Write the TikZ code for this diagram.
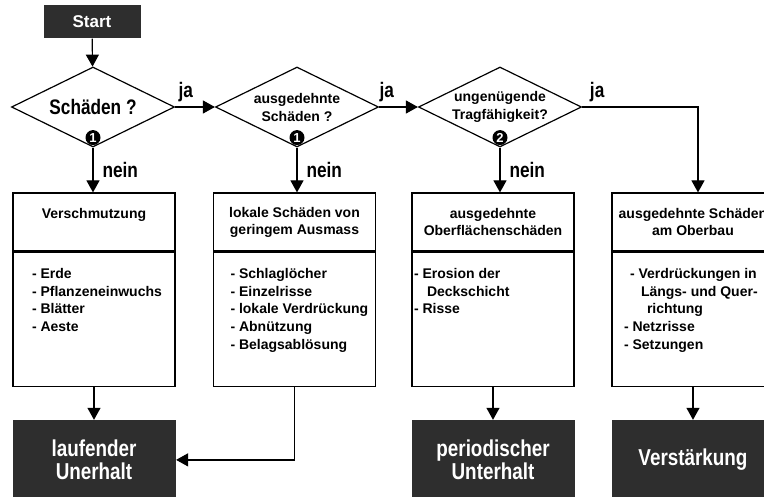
\documentclass[tikz,border=0pt]{standalone}
\usepackage{fontspec}
\setmainfont{Liberation Sans}
\newfontfamily\condfont[FakeStretch=0.82]{Liberation Sans}
\usetikzlibrary{arrows.meta}
\usetikzlibrary{positioning}
\usetikzlibrary{shapes.geometric}
\tikzset{
  flow/.style={-{Triangle[width=13pt,length=12pt]}},
  dark/.style={fill=black!82, text=white, minimum width=163pt, minimum height=79pt,
    align=center, font=\condfont\bfseries\fontsize{23}{23}\selectfont},
  decision/.style={draw, diamond, aspect=2, inner sep=0pt, minimum width=163pt,
    minimum height=80pt, align=center},
  headbox/.style={draw, minimum width=162pt, minimum height=58pt, align=center,
    font=\bfseries\fontsize{14}{17}\selectfont},
  itembox/.style={draw, minimum width=162pt, minimum height=134pt},
  itemtext/.style={anchor=north west, inner sep=0pt, align=left,
    font=\bfseries\fontsize{14}{17.8}\selectfont},
  badge/.style={circle, fill=black, text=white, inner sep=0pt, minimum size=15pt,
    font=\bfseries\fontsize{13}{13}\selectfont},
  answer/.style={inner sep=0pt, font=\condfont\bfseries\fontsize{21}{21}\selectfont},
}
\begin{document}
\begin{tikzpicture}[x=1pt, y=1pt, line width=1.2pt]
  \useasboundingbox (0,0) rectangle (764,-497);
  \clip (0,0) rectangle (764,-497);

  \node[dark, minimum width=97pt, minimum height=33pt,
    font=\bfseries\fontsize{17}{17}\selectfont] (start) at (92,-21.5) {Start};

  \node[decision, font=\condfont\bfseries\fontsize{21}{21}\selectfont] (d1) at (93,-107) {Schäden ?};
  \node[decision, font=\bfseries\fontsize{14}{18}\selectfont] (d2) at (297,-107) {ausgedehnte\\Schäden ?};
  \node[decision, font=\bfseries\fontsize{14}{17.5}\selectfont] (d3) at (500,-107) {ungenügende\\Tragfähigkeit?};
  \node[badge] (n1) at ([yshift=10pt]d1.south) {1};
  \node[badge] (n2) at ([yshift=10pt]d2.south) {1};
  \node[badge] (n3) at ([yshift=10pt]d3.south) {2};
  \coordinate (j4) at (698,-107);

  \node[headbox, text depth=18pt] (h1) at (94,-222) {Verschmutzung};
  \node[headbox] (h2) at (294.5,-222) {lokale Schäden von\\geringem Ausmass};
  \node[headbox] (h3) at (493,-222) {ausgedehnte\\Oberflächenschäden};
  \node[headbox] (h4) at (693,-222) {ausgedehnte Schäden\\am Oberbau};

  \node[itembox, below=0pt of h1] (l1) {};
  \node[itembox, below=0pt of h2] (l2) {};
  \node[itembox, below=0pt of h3] (l3) {};
  \node[itembox, below=0pt of h4] (l4) {};

  \node[itemtext] (i1) at ([xshift=19pt,yshift=-16pt]l1.north west)
    {- Erde\\- Pflanzeneinwuchs\\- Blätter\\- Aeste};
  \node[itemtext] (i2) at ([xshift=17pt,yshift=-16pt]l2.north west)
    {- Schlaglöcher\\- Einzelrisse\\- lokale Verdrückung\\- Abnützung\\- Belagsablösung};
  \node[itemtext] (i3) at ([xshift=2pt,yshift=-16pt]l3.north west)
    {- Erosion der\\\hspace{13pt}Deckschicht\\- Risse};
  \node[itemtext] (i4) at ([xshift=12pt,yshift=-16pt]l4.north west)
    {\hspace{6pt}- Verdrückungen in\\\hspace{17pt}Längs- und Quer-\\\hspace{23pt}richtung\\- Netzrisse\\- Setzungen};

  \node[dark, below=33pt of l1] (r1) {laufender\\Unerhalt};
  \node[dark, below=33pt of l3] (r3) {periodischer\\Unterhalt};
  \node[dark, below=33pt of l4] (r4) {Verstärkung};

  \draw[flow] (start) -- (d1);
  \draw[flow] (d1) -- node[answer, pos=0.27, above=5pt] {ja} (d2);
  \draw[flow] (d2) -- node[answer, pos=0.2, above=5pt] {ja} (d3);
  \draw[flow] (d3) -- node[answer, pos=0.13, above=5pt] {ja} (j4) -- (j4 |- h4.north);
  \draw[flow] (d1.south) -- node[answer, right=9pt] {nein} (d1.south |- h1.north);
  \draw[flow] (d2.south) -- node[answer, right=9pt] {nein} (d2.south |- h2.north);
  \draw[flow] (d3.south) -- node[answer, right=9pt] {nein} (d3.south |- h3.north);
  \draw[flow] (l1.south) -- (l1.south |- r1.north);
  \draw[flow] (l2.south) |- (r1.east);
  \draw[flow] (l3.south) -- (l3.south |- r3.north);
  \draw[flow] (l4.south) -- (l4.south |- r4.north);
\end{tikzpicture}
\end{document}
